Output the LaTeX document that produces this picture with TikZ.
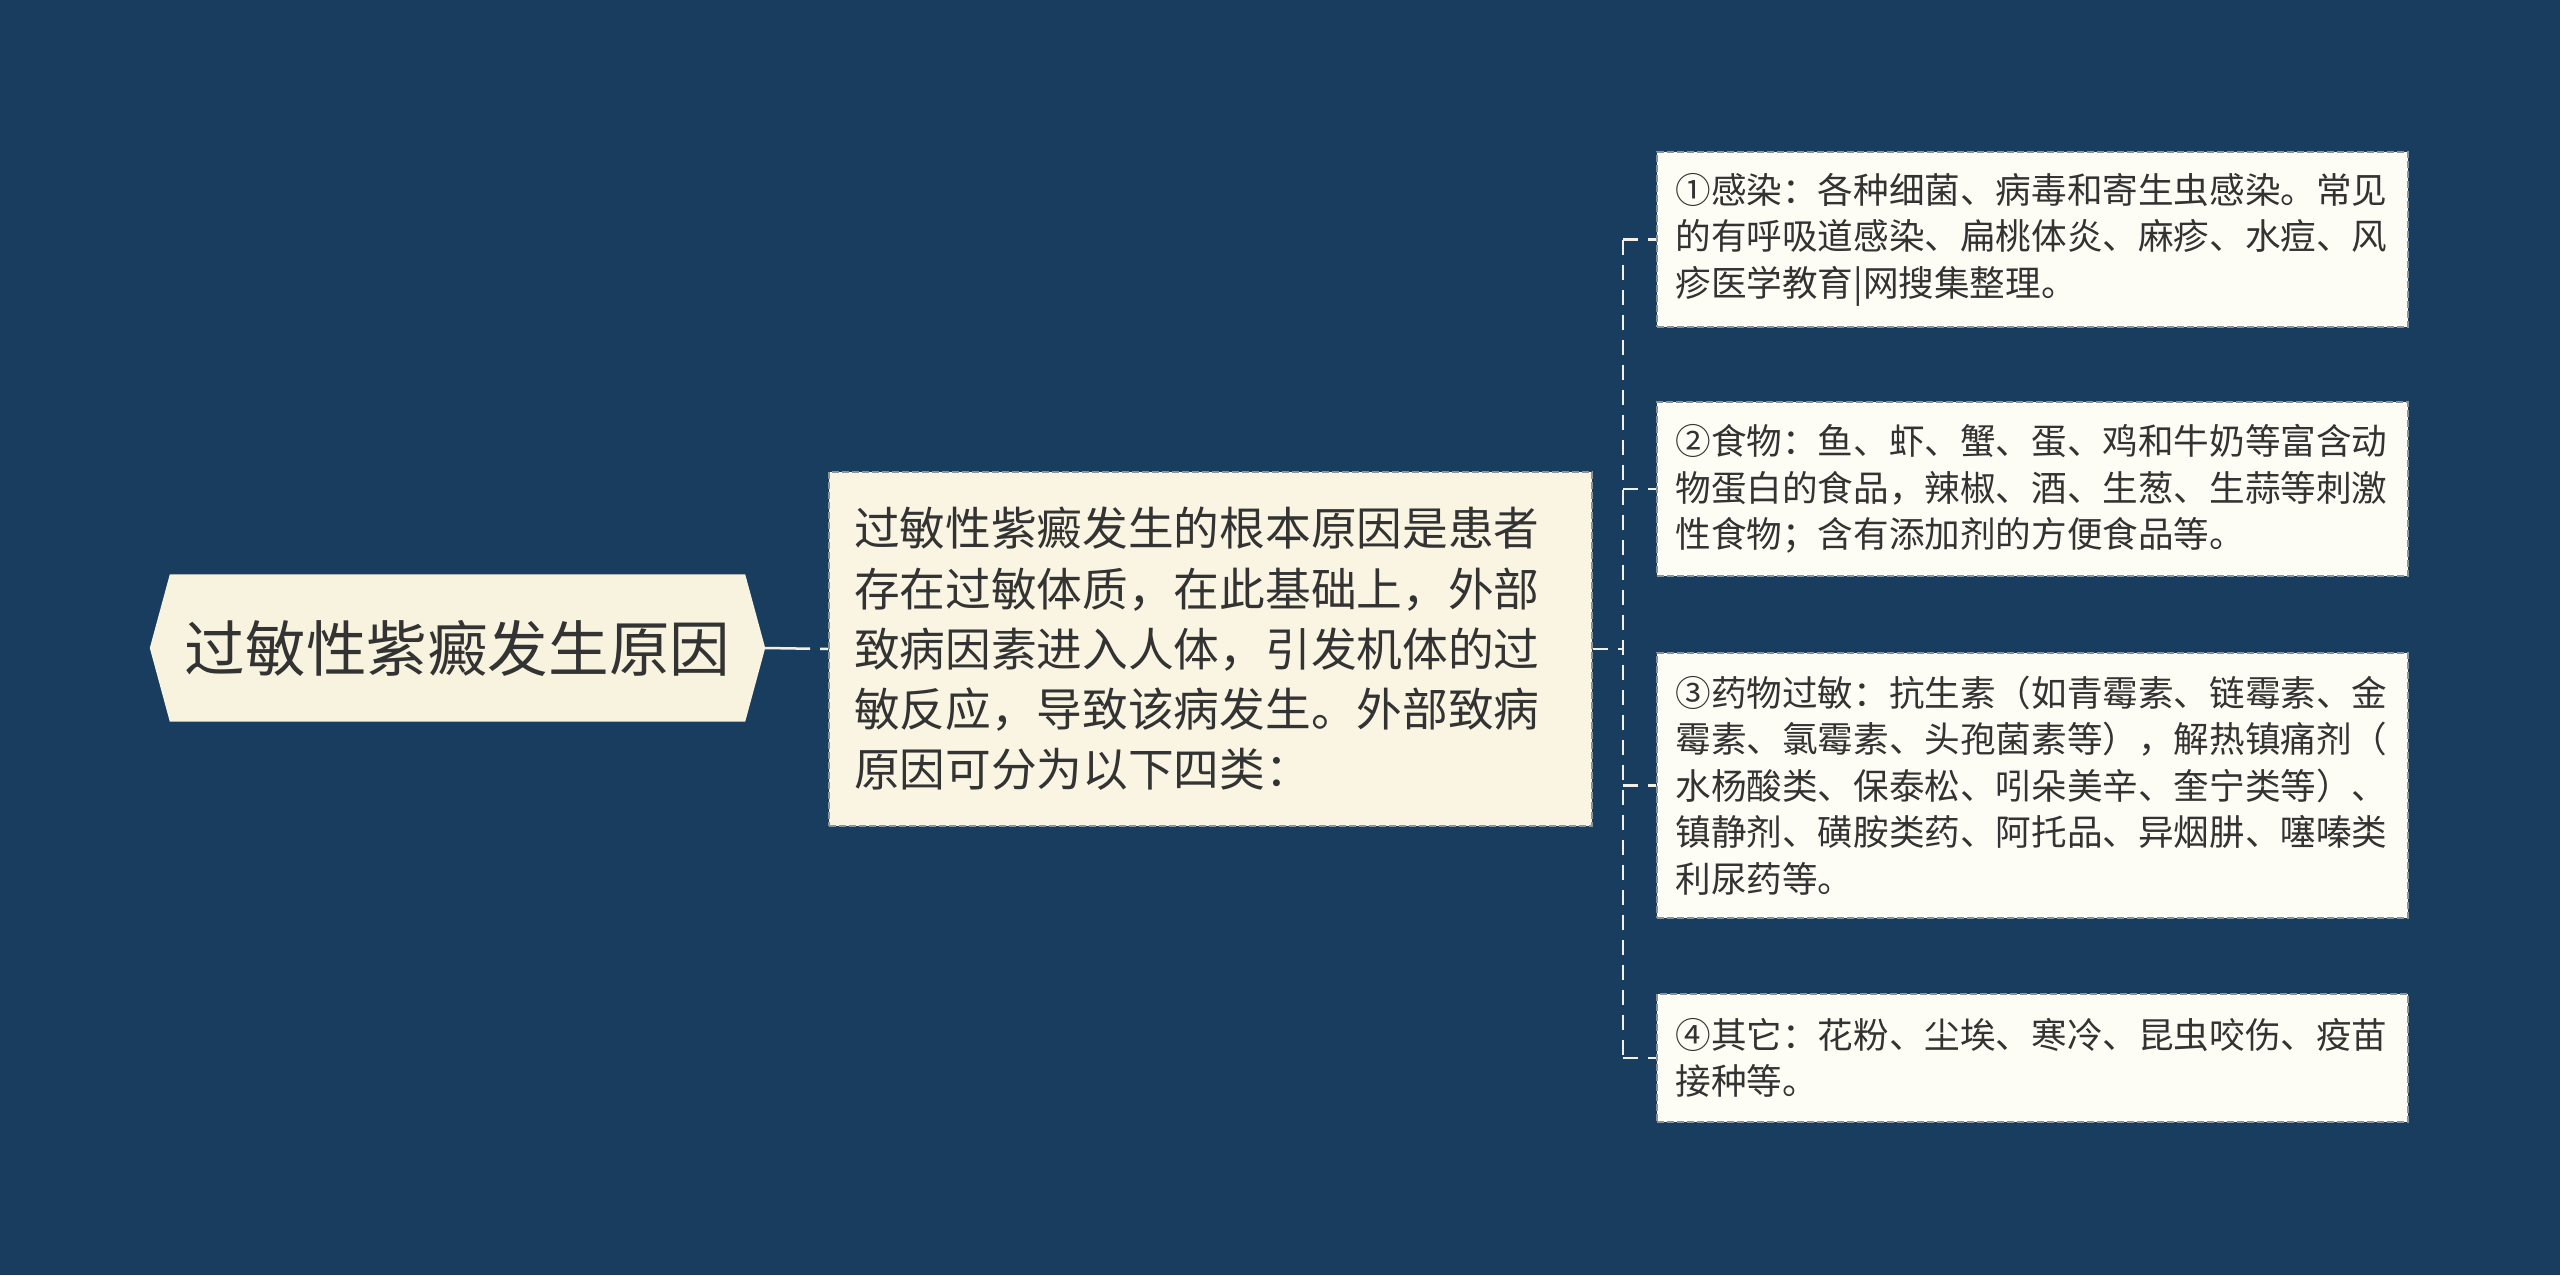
\documentclass[tikz,border=0pt]{standalone}
\usepackage{fontspec}
\setmainfont{Noto Sans CJK SC}
\usetikzlibrary{backgrounds}
\definecolor{bgnavy}{HTML}{183D5F}
\definecolor{rootfill}{HTML}{F8F3DF}
\definecolor{midfill}{HTML}{FAF5E3}
\definecolor{leaffill}{HTML}{FEFDF5}
\definecolor{txt}{HTML}{333333}
\definecolor{bordergrey}{HTML}{8C9396}
\definecolor{linecol}{HTML}{F2F0E6}
\tikzset{
  midbox/.style={draw=bordergrey, line width=1.8pt, dash pattern=on 7pt off 3pt, fill=midfill,
    text=txt, align=left, text width=713pt, inner xsep=25pt, inner ysep=0pt,
    minimum width=763pt, minimum height=354pt,
    font=\fontsize{45.7pt}{60.3pt}\selectfont},
  leafbox/.style={draw=bordergrey, line width=1.8pt, dash pattern=on 7pt off 3pt, fill=leaffill,
    text=txt, align=left, text width=714pt, inner xsep=18.5pt, inner ysep=0pt,
    minimum width=751pt,
    font=\fontsize{35.6pt}{46.5pt}\selectfont},
  conn/.style={draw=linecol, line width=2.5pt, dash pattern=on 15pt off 10pt},
}
\begin{document}
\begin{tikzpicture}[x=1pt,y=-1pt]
\useasboundingbox (0,0) rectangle (2560,1275);

% root
\node[text=txt, minimum width=575pt, minimum height=147pt, inner sep=0pt,
  font=\fontsize{60.6pt}{70pt}\selectfont] (root) at (457.5,648) {过敏性紫癜发生原因};
\begin{pgfonlayer}{background}
\fill[bgnavy] (0,0) rectangle (2560,1275);
\fill[rootfill] (root.north west) -- (root.north east) -- ([xshift=20pt]root.east)
  -- (root.south east) -- (root.south west) -- ([xshift=-20pt]root.west) -- cycle;
\end{pgfonlayer}
\coordinate (roottip) at ([xshift=20pt]root.east);

% middle
\node[midbox] (mid) at (1210.5,649) {过敏性紫癜发生的根本原因是患者\\存在过敏体质，在此基础上，外部\\致病因素进入人体，引发机体的过\\敏反应，导致该病发生。外部致病\\原因可分为以下四类：};

% leaves
\node[leafbox, minimum height=175pt] (n1) at (2032.5,239.5) {①感染：各种细菌、病毒和寄生虫感染。常见\\的有呼吸道感染、扁桃体炎、麻疹、水痘、风\\疹医学教育|网搜集整理。};
\node[leafbox, minimum height=174pt] (n2) at (2032.5,489) {②食物：鱼、虾、蟹、蛋、鸡和牛奶等富含动\\物蛋白的食品，辣椒、酒、生葱、生蒜等刺激\\性食物；含有添加剂的方便食品等。};
\node[leafbox, minimum height=265pt] (n3) at (2032.5,785.5) {③药物过敏：抗生素（如青霉素、链霉素、金\\霉素、氯霉素、头孢菌素等），解热镇痛剂（\\水杨酸类、保泰松、吲朵美辛、奎宁类等）、\\镇静剂、磺胺类药、阿托品、异烟肼、噻嗪类\\利尿药等。};
\node[leafbox, minimum height=128pt] (n4) at (2032.5,1058) {④其它：花粉、尘埃、寒冷、昆虫咬伤、疫苗\\接种等。};

% connectors
\coordinate (sp) at (1623,649);
\draw[conn, dash pattern=on 45pt off 10pt on 15pt off 10pt] (roottip) -- (mid.west);
\draw[conn] (mid.east) -- (sp);
\draw[conn] (sp |- n1.west) -- (sp |- n4.west);
\draw[conn] (sp |- n1.west) -- (n1.west);
\draw[conn] (sp |- n2.west) -- (n2.west);
\draw[conn] (sp |- n3.west) -- (n3.west);
\draw[conn] (sp |- n4.west) -- (n4.west);
\end{tikzpicture}
\end{document}
